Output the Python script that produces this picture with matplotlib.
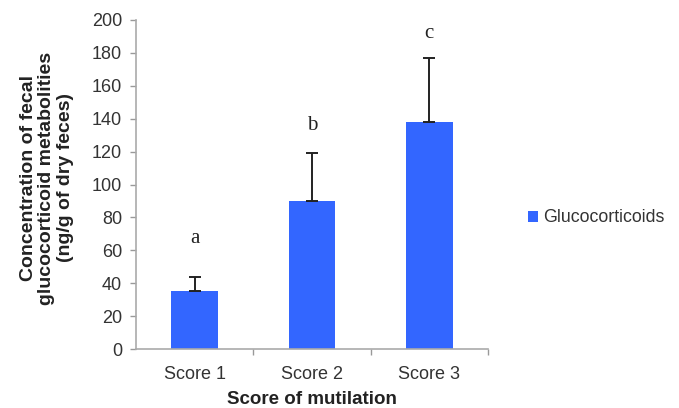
import matplotlib
matplotlib.use("Agg")
import matplotlib.pyplot as plt
import numpy as np

categories = ["Score 1", "Score 2", "Score 3"]
values = [35, 90, 138]
errors = [9, 29, 39]
letters = ["a", "b", "c"]
letter_y = [67, 136, 192]
yticks = [0, 20, 40, 60, 80, 100, 120, 140, 160, 180, 200]

plt.rcParams['font.family'] = ['Liberation Sans', 'DejaVu Sans']

fig = plt.figure(figsize=(6.79, 4.08), dpi=100)
ax = fig.add_axes([136/679, 1-349/408, (488-136)/679, (349-20)/408])

x = np.arange(len(categories))
bar_color = "#3366FF"
ax.bar(x, values, width=0.4, color=bar_color, label="Glucocorticoids", zorder=2)
ax.errorbar(x, values, yerr=[np.zeros(len(errors)), errors], fmt="none",
            ecolor="#222222", elinewidth=1.4, capsize=4, capthick=1.4, zorder=3)

for xi, t, ly in zip(x, letters, letter_y):
    ax.text(xi, ly, t, ha="center", va="center", fontsize=15,
            family=["Liberation Serif", "DejaVu Serif"], color="#222222")

ax.set_xlim(-0.5, 2.5)
ax.set_ylim(0, 200)
ax.set_yticks(yticks)
ax.set_xticks(x)
ax.set_xticklabels(categories)
ax.set_xticks([0.5, 1.5, 2.5], minor=True)
ax.tick_params(axis="x", which="major", length=0, pad=12, labelsize=13, labelcolor="#333333")
ax.tick_params(axis="x", which="minor", length=4, color="#999999", width=1)
ax.tick_params(axis="y", length=4, color="#999999", width=1, labelsize=13, labelcolor="#333333", pad=6)

for s in ["top", "right"]:
    ax.spines[s].set_visible(False)
for s in ["left", "bottom"]:
    ax.spines[s].set_color("#AAAAAA")
    ax.spines[s].set_linewidth(1.2)

ax.set_xlabel("Score of mutilation", fontsize=13.5, fontweight="bold", color="#222222", labelpad=6)
fig.text(47/679, 1-178/408,
         "Concentration of fecal\nglucocorticoid metabolities\n(ng/g of dry feces)",
         rotation=90, ha="center", va="center", multialignment="center",
         fontsize=14, fontweight="bold", color="#222222", linespacing=1.12)

leg = fig.legend(loc="center left", bbox_to_anchor=(512/679, 1-218/408), frameon=False,
                 fontsize=12.8, handlelength=0.55, handleheight=0.55, handletextpad=0.3)
for t in leg.get_texts():
    t.set_color("#333333")

fig.savefig("out.png", dpi=100)
